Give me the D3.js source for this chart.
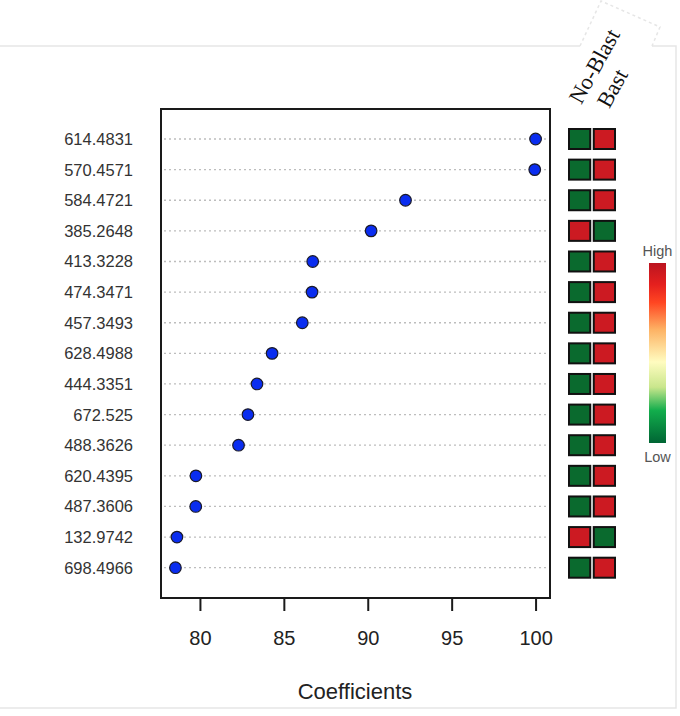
<!DOCTYPE html>
<html>
<head>
<meta charset="utf-8">
<script src="https://cdn.jsdelivr.net/npm/d3@7"></script>
<style>
  body { margin: 0; background: #fff; }
  svg { display: block; }
</style>
</head>
<body>
<script>
// features, top to bottom
var features = ["614.4831", "570.4571", "584.4721", "385.2648", "413.3228",
  "474.3471", "457.3493", "628.4988", "444.3351", "672.525",
  "488.3626", "620.4395", "487.3606", "132.9742", "698.4966"];
// coefficient of each feature
var coefs = [100, 99.95, 92.25, 90.2, 86.72, 86.68, 86.1, 84.3, 83.4, 82.86,
  82.3, 79.76, 79.75, 78.63, 78.54];
// relative level per class (0 = low, 1 = high)
var classes = ["No-Blast", "Bast"];
var noBlast = [0, 0, 0, 1, 0, 0, 0, 0, 0, 0, 0, 0, 0, 1, 0];
var blast   = [1, 1, 1, 0, 1, 1, 1, 1, 1, 1, 1, 1, 1, 0, 1];
var xTicks = [80, 85, 90, 95, 100];

var width = 680, height = 716;

var svg = d3.select('body').append('svg')
  .attr('width', width)
  .attr('height', height);

// light page frame
var frame = svg.append('g')
  .attr('fill', 'none')
  .attr('stroke', '#e6e6e6')
  .attr('stroke-width', 1.5);
frame.append('path').attr('d', 'M0,46 H580 M652,46 H676 V708 H0');
frame.append('path')
  .attr('d', 'M580,46 L601,1 L660,27 L652,46')
  .attr('stroke-dasharray', '3,3');

var x = d3.scaleLinear()
  .domain([77.68, 100.86])
  .range([161, 550]);

var y = d3.scalePoint()
  .domain(features)
  .range([139, 567.7]);

var boxTop = 109, boxBottom = 598;

// dotted guide lines
svg.append('g').selectAll('line')
  .data(features)
  .enter().append('line')
  .attr('x1', x.range()[0] + 3)
  .attr('x2', x.range()[1] - 3)
  .attr('y1', function(d) { return y(d); })
  .attr('y2', function(d) { return y(d); })
  .attr('stroke', '#bdbdbd')
  .attr('stroke-width', 1.3)
  .attr('stroke-dasharray', '2,3');

// plot box
svg.append('rect')
  .attr('x', x.range()[0])
  .attr('y', boxTop)
  .attr('width', x.range()[1] - x.range()[0])
  .attr('height', boxBottom - boxTop)
  .attr('fill', 'none')
  .attr('stroke', '#1a1a1a')
  .attr('stroke-width', 2);

// x axis
var xAxis = svg.append('g')
  .attr('transform', 'translate(0,' + boxBottom + ')')
  .call(d3.axisBottom(x).tickValues(xTicks).tickSize(13).tickPadding(20));
xAxis.select('.domain').remove();
xAxis.selectAll('.tick line').attr('stroke', '#1a1a1a').attr('stroke-width', 2);
xAxis.selectAll('.tick text')
  .attr('font-family', 'Liberation Sans, Arial, sans-serif')
  .attr('font-size', 20)
  .attr('fill', '#222');

svg.append('text')
  .attr('x', 355)
  .attr('y', 699)
  .attr('text-anchor', 'middle')
  .attr('font-family', 'Liberation Sans, Arial, sans-serif')
  .attr('font-size', 22)
  .attr('fill', '#222')
  .text('Coefficients');

// y labels
svg.append('g').selectAll('text')
  .data(features)
  .enter().append('text')
  .attr('x', 133)
  .attr('y', function(d) { return y(d); })
  .attr('dy', '0.36em')
  .attr('text-anchor', 'end')
  .attr('font-family', 'Liberation Sans, Arial, sans-serif')
  .attr('font-size', 16.5)
  .attr('fill', '#333')
  .text(function(d) { return d; });

// points
svg.append('g').selectAll('circle')
  .data(coefs)
  .enter().append('circle')
  .attr('cx', function(d) { return x(d); })
  .attr('cy', function(d, i) { return y(features[i]); })
  .attr('r', 5.8)
  .attr('fill', '#0a2df0')
  .attr('stroke', '#1a1a2a')
  .attr('stroke-width', 1.2);

// heat cells
var heat = d3.scaleOrdinal().domain([0, 1]).range(['#0a6a2e', '#cc1a22']);
var cx = d3.scaleBand().domain(classes).range([568, 616]).paddingInner(0.06);
var cells = [];
features.forEach(function(f, i) {
  cells.push({ f: f, c: classes[0], v: noBlast[i] });
  cells.push({ f: f, c: classes[1], v: blast[i] });
});
svg.append('g').selectAll('rect')
  .data(cells)
  .enter().append('rect')
  .attr('x', function(d) { return cx(d.c) + 1; })
  .attr('y', function(d) { return y(d.f) - 10; })
  .attr('width', cx.bandwidth() - 2)
  .attr('height', 20)
  .attr('fill', function(d) { return heat(d.v); })
  .attr('stroke', '#111')
  .attr('stroke-width', 2);

// rotated class labels
svg.append('text')
  .attr('transform', 'translate(594,66) rotate(-61)')
  .attr('text-anchor', 'middle')
  .attr('dy', '0.35em')
  .attr('font-family', 'Liberation Serif, Times New Roman, serif')
  .attr('font-size', 22.5)
  .attr('fill', '#111')
  .text(classes[0]);
svg.append('text')
  .attr('transform', 'translate(612,88) rotate(-61)')
  .attr('text-anchor', 'middle')
  .attr('dy', '0.35em')
  .attr('font-family', 'Liberation Serif, Times New Roman, serif')
  .attr('font-size', 22.5)
  .attr('fill', '#111')
  .text(classes[1]);

// color key
var stops = [
  [0, '#006534'], [0.18, '#12ad4c'], [0.31, '#c9e68c'], [0.45, '#fffcc0'],
  [0.63, '#fdb264'], [0.78, '#ff4622'], [0.88, '#e5201e'], [1, '#bb1420']
];
var grad = svg.append('defs').append('linearGradient')
  .attr('id', 'key')
  .attr('x1', 0).attr('y1', 1).attr('x2', 0).attr('y2', 0);
grad.selectAll('stop')
  .data(stops)
  .enter().append('stop')
  .attr('offset', function(d) { return d[0]; })
  .attr('stop-color', function(d) { return d[1]; });

svg.append('rect')
  .attr('x', 649)
  .attr('y', 263)
  .attr('width', 17)
  .attr('height', 180)
  .attr('fill', 'url(#key)');

svg.append('text')
  .attr('x', 657.5).attr('y', 256)
  .attr('text-anchor', 'middle')
  .attr('font-family', 'Liberation Sans, Arial, sans-serif')
  .attr('font-size', 14.5)
  .attr('fill', '#555')
  .text('High');
svg.append('text')
  .attr('x', 657.5).attr('y', 462)
  .attr('text-anchor', 'middle')
  .attr('font-family', 'Liberation Sans, Arial, sans-serif')
  .attr('font-size', 14.5)
  .attr('fill', '#555')
  .text('Low');
</script>
</body>
</html>
